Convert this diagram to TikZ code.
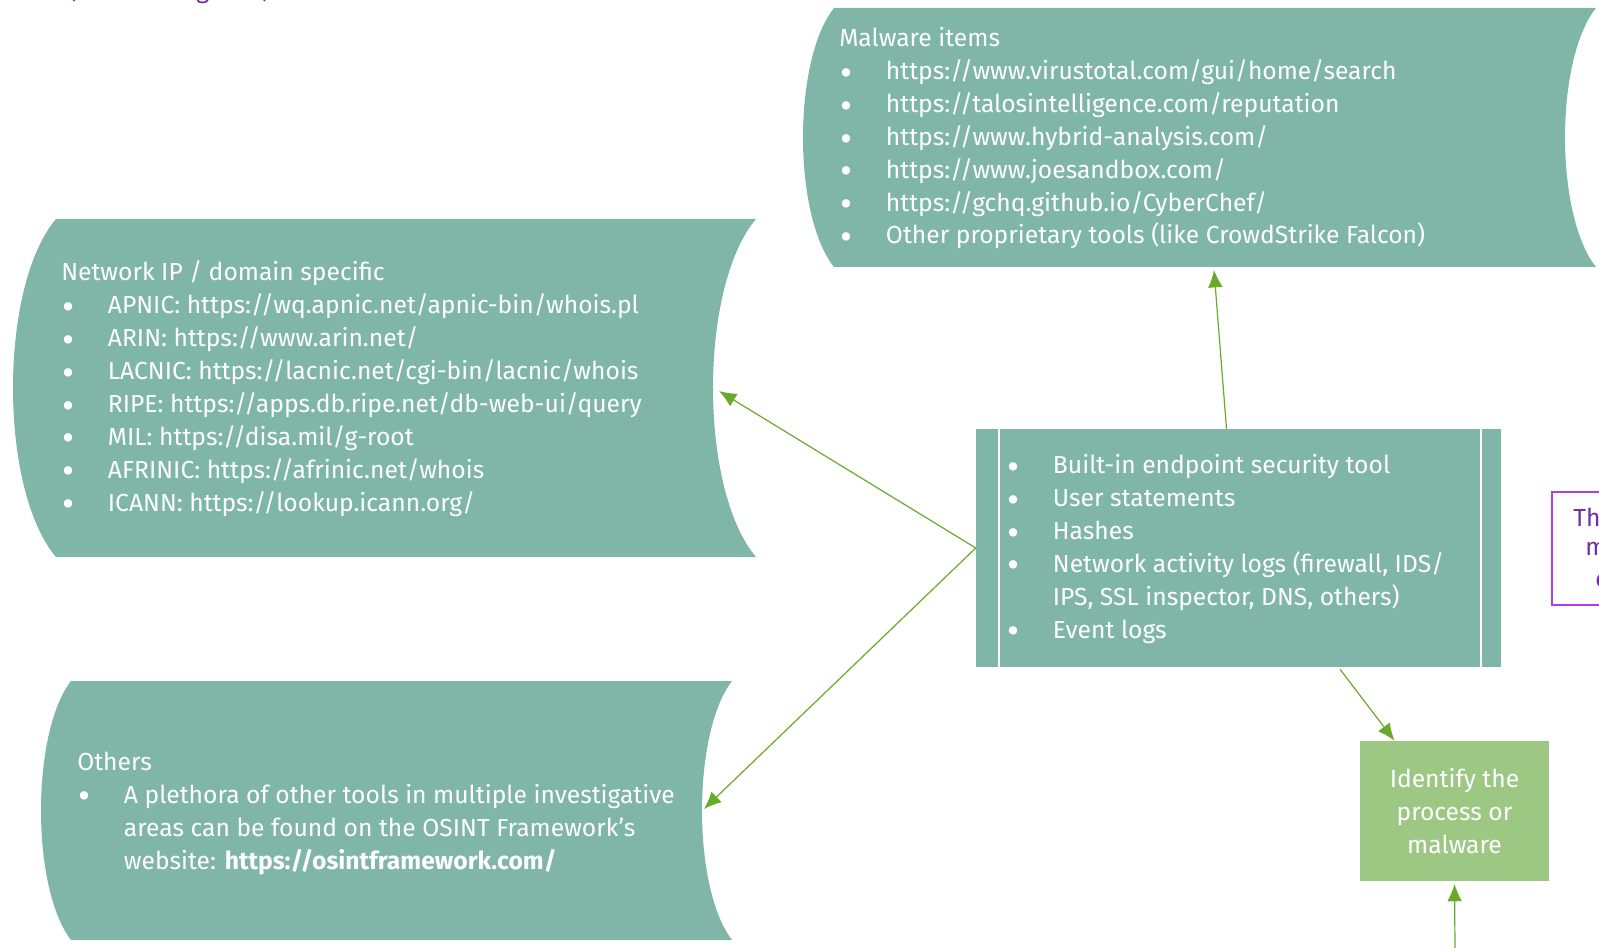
\documentclass[tikz,border=0pt]{standalone}
\usepackage{fontspec}
\setmainfont{Fira Sans}
\newfontfamily\headfont{Fira Sans}
\usetikzlibrary{arrows.meta, positioning}

\definecolor{storedfill}{RGB}{127,182,168}
\definecolor{idgreen}{RGB}{157,200,131}
\definecolor{arrowgreen}{RGB}{106,170,42}
\definecolor{notepurple}{RGB}{112,48,160}
\definecolor{noteborder}{RGB}{178,60,230}

% bullet with hanging indent
\newcommand{\bitem}{\makebox[35pt][l]{\hspace*{1pt}\raisebox{-0.45ex}{\scalebox{1.5}{\textbullet}}}}
\newcommand{\bskip}{\hspace*{35pt}}
% stored data shape: left, right, top, bottom, bulge
\newcommand{\storedshape}[5]{%
  \fill[storedfill] (#1,#3) .. controls ({#1-#5/0.75},{#3+0.2*(#4-#3)}) and ({#1-#5/0.75},{#4-0.2*(#4-#3)}) .. (#1,#4)
    -- (#2,#4) .. controls ({#2-#5/0.75},{#4-0.2*(#4-#3)}) and ({#2-#5/0.75},{#3+0.2*(#4-#3)}) .. (#2,#3) -- cycle;}

\begin{document}
\begin{tikzpicture}[x=0.75pt, y=-0.75pt,
    flow/.style={draw=arrowgreen, line width=0.9pt, -{Latex[length=13pt,width=11pt]}},
    boxtext/.style={text=white, align=left, inner sep=0pt, font=\fontsize{18.5}{24.7}\selectfont},
    subproc/.style={fill=storedfill, minimum width={525*0.75pt}, minimum height={238*0.75pt}, inner sep=0pt},
    idbox/.style={fill=idgreen, text=white, align=center, inner sep=0pt,
      minimum width={189*0.75pt}, minimum height={140*0.75pt}, font=\fontsize{18.5}{24.7}\selectfont},
    notebox/.style={draw=noteborder, line width=1.4pt, inner sep=0pt, minimum width={120*0.75pt}, minimum height={113*0.75pt}},
    notetext/.style={text=notepurple, inner sep=0pt, font=\fontsize{18.5}{24.7}\selectfont}
  ]
  \useasboundingbox (0,0) rectangle (1599,948);

  % stored data boxes
  \storedshape{56}{756}{219}{557}{43}
  \storedshape{834}{1596}{8}{267}{31}
  \storedshape{71}{732}{681}{940}{30}

  % anchor at the baseline of the last line
  \node[boxtext, anchor=base west] (nettext) at (61,511) {%
    {\headfont Network IP / domain specific}\\
    \bitem APNIC: https://wq.apnic.net/apnic-bin/whois.pl\\
    \bitem ARIN: https://www.arin.net/\\
    \bitem LACNIC: https://lacnic.net/cgi-bin/lacnic/whois\\
    \bitem RIPE: https://apps.db.ripe.net/db-web-ui/query\\
    \bitem MIL: https://disa.mil/g-root\\
    \bitem AFRINIC: https://afrinic.net/whois\\
    \bitem ICANN: https://lookup.icann.org/};

  \node[boxtext, anchor=base west] (maltext) at (839,244) {%
    {\headfont Malware items}\\
    \bitem https://www.virustotal.com/gui/home/search\\
    \bitem https://talosintelligence.com/reputation\\
    \bitem https://www.hybrid-analysis.com/\\
    \bitem https://www.joesandbox.com/\\
    \bitem https://gchq.github.io/CyberChef/\\
    \bitem Other proprietary tools (like CrowdStrike Falcon)};

  \node[boxtext, anchor=base west] (othtext) at (77,869) {%
    {\headfont Others}\\
    \bitem A plethora of other tools in multiple investigative\\
    \bskip areas can be found on the OSINT Framework’s\\
    \bskip website: \textbf{https://osintframework.com/}};

  % evidence sources
  \node[subproc] (cen) at (1238.5,548) {};
  \draw[white, line width=1.8pt] (999,429) -- (999,667) (1481,429) -- (1481,667);
  \node[boxtext, anchor=base west] (centext) at (1006,638) {%
    \bitem Built-in endpoint security tool\\
    \bitem User statements\\
    \bitem Hashes\\
    \bitem Network activity logs (firewall, IDS/\\
    \bskip IPS, SSL inspector, DNS, others)\\
    \bitem Event logs};

  \node[idbox] (ident) at (1454.5,811) {Identify the\\process or\\malware};

  % note cut by the page edge
  \node[notebox, anchor=north west] (note) at (1551,491) {};
  \node[notetext, anchor=west] (note1) at (1573,517) {Th};
  \node[notetext, anchor=west] (note2) at (1585,549) {m};
  \node[notetext, anchor=west] (note3) at (1595,581) {e};
  \node[notetext, anchor=base west] (caption) at (68,-1) {(\hspace*{90pt}g\hspace*{40pt})};

  % connectors
  \coordinate (netin) at (719,391);
  \coordinate (othin) at (704,809);
  \coordinate (malbot) at (1214,270);
  \coordinate (below) at (1455,948);
  \draw[flow] (cen.west) -- (netin);
  \draw[flow] (cen.west) -- (othin);
  \draw[flow] ([xshift=-9pt]cen.north) -- (malbot);
  \draw[flow, shorten <=2pt] ([xshift=75pt]cen.south) -- ([xshift=-45pt]ident.north);
  \draw[flow, shorten >=2pt] (below) -- (ident.south);
\end{tikzpicture}
\end{document}
